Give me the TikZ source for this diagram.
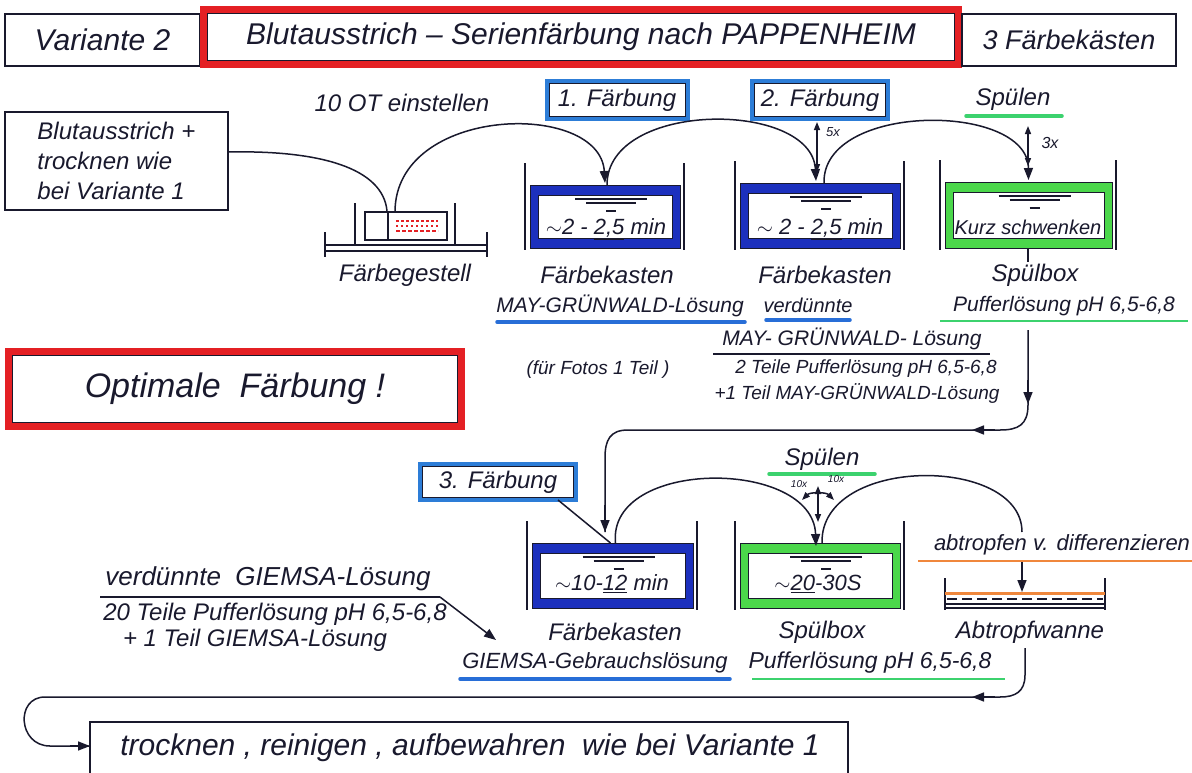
\documentclass[tikz,border=0pt]{standalone}
\usepackage{fontspec}
\setmainfont{Liberation Sans}
\usetikzlibrary{arrows.meta}
\definecolor{rred}{RGB}{228,32,36}
\definecolor{kblue}{RGB}{28,48,190}
\definecolor{lblue}{RGB}{45,125,215}
\definecolor{ublue}{RGB}{40,110,215}
\definecolor{kgreen}{RGB}{75,215,75}
\definecolor{ugreen}{RGB}{60,210,110}
\definecolor{uorange}{RGB}{240,135,60}
\definecolor{ink}{RGB}{25,25,45}
\newcommand\Kasten[6]{%
  \draw[wall] (#2-5,#4-22) -- (#2-5,#5+2);
  \draw[wall] (#3+4,#4-22) -- (#3+4,#5+2);
  \fill[#6] (#2,#4) rectangle (#3,#5);
  \filldraw[fill=white, draw=ink, line width=0.7pt] (#2+8,#4+10) rectangle (#3-8,#5-10);
  \draw[ink, line width=0.7pt] (#2,#4) rectangle (#3,#5);
  \coordinate (#1) at ({(#2+#3)/2},#4);
  \draw[water] ({(#2+#3)/2-30},#4+14) -- ++(72,0);
  \draw[water] ({(#2+#3)/2-19},#4+18) -- ++(50,0);
  \draw[water] ({(#2+#3)/2+1},#4+26) -- ++(10,0);
}
\newcommand\Inset[2]{%
  \draw[ink, line width=0.8pt] ([shift={(#2,#2)}]#1.north west) rectangle ([shift={(-#2,-#2)}]#1.south east);
}
\begin{document}
\begin{tikzpicture}[x=1pt,y=-1pt,
  hand/.style={text=ink, inner sep=0pt, outer sep=0pt, font=\fontsize{24}{28}\selectfont\itshape},
  big/.style={hand, font=\fontsize{30}{34}\selectfont\itshape},
  mid/.style={hand, font=\fontsize{22}{26}\selectfont\itshape},
  small/.style={hand, font=\fontsize{20}{24}\selectfont\itshape},
  intext/.style={hand, font=\fontsize{22}{26}\selectfont\itshape},
  tiny/.style={hand, font=\fontsize{13}{15}\selectfont\itshape},
  bbox/.style={draw=ink, line width=1.3pt, outer sep=0pt, inner sep=0pt},
  redbox/.style={draw=rred, line width=7pt, outer sep=0pt, inner sep=0pt},
  lbbox/.style={draw=lblue, line width=4pt, outer sep=0pt, inner sep=0pt},
  wall/.style={draw=ink, line width=1.4pt},
  water/.style={draw=ink, line width=1.3pt},
  conn/.style={draw=ink, line width=1.5pt},
  tip/.style={conn, -{Triangle[length=12pt,width=9pt]}},
  dtip/.style={conn, {Triangle[length=8pt,width=6pt]}-{Triangle[length=8pt,width=6pt]}},
  uline/.style={line width=3.5pt, line cap=round},
]
\useasboundingbox (0,0) rectangle (1192,772);
\clip (0,0) rectangle (1192,772);
\fill[white] (0,0) rectangle (1192,772);

% ---------- header ----------
\node[bbox, big, minimum width=195pt, minimum height=52pt] (var) at (102.5,40) {Variante 2};
\node[redbox, big, minimum width=755pt, minimum height=55pt] (title) at (581,37) {Blutausstrich – Serienfärbung nach PAPPENHEIM};
\Inset{title}{4}
\node[bbox, hand, font=\fontsize{27}{30}\selectfont\itshape, minimum width=214pt, minimum height=52pt] (kaesten) at (1069,40) {3 Färbekästen};

% ---------- left box ----------
\node[bbox, hand, align=left, minimum width=223pt, minimum height=98pt] (blut) at (116.5,161) {Blutausstrich +\\[2pt]trocknen wie\\[2pt]bei Variante 1};

% ---------- Färbegestell ----------
\draw[wall] (325,232) -- (325,257);
\draw[wall] (487,232) -- (487,257);
\draw[wall] (325,245) -- (487,245);
\draw[wall] (325,251) -- (487,251);
\draw[wall] (355,203) -- (355,245);
\draw[wall] (455,203) -- (455,245);
\draw[wall] (365,212) rectangle (447,240);
\draw[wall] (388,212) -- (388,240);
\draw[rred, line width=1.6pt, dash pattern=on 3pt off 2pt] (396,221) -- (438,221);
\draw[rred, line width=1.6pt, dash pattern=on 2pt off 3pt] (396,226) -- (438,226);
\draw[rred, line width=1.6pt, dash pattern=on 4pt off 2pt] (396,231) -- (438,231);
\coordinate (gin) at (387,211);
\coordinate (gout) at (395,212);

\node[hand] (ot) at (402,103) {10 OT einstellen};

% ---------- top row containers ----------
\Kasten{k1}{530}{680}{185}{248}{kblue}
\Kasten{k2}{740}{900}{183}{248}{kblue}
\Kasten{s1}{945}{1112}{182}{248}{kgreen}
\node[intext] (k1t) at (606,229) {$\sim$2 - \underline{2,5} min};
\node[intext] (k2t) at (820,229) {$\sim$ 2 - \underline{2,5} min};
\node[intext, font=\fontsize{20}{24}\selectfont\itshape] (s1t) at (1028,227) {Kurz schwenken};

\node[lbbox, hand, minimum width=141pt, minimum height=38pt] (f1) at (617,100) {1. Färbung};
\Inset{f1}{2.5}
\node[lbbox, hand, minimum width=136pt, minimum height=38pt] (f2) at (820,100) {2. Färbung};
\Inset{f2}{2.5}
\node[hand] (sp1) at (1013,99) {Spülen};
\draw[ugreen, uline] (966,116) -- (1062,116);

% arcs
\draw[conn] (blut.east |- 0,152) .. controls (320,150) and (383,168) .. (gin);
\draw[tip] (gout) .. controls (395,105) and (600,100) .. ([yshift=2pt]k1);
\draw[tip] ([xshift=2pt]k1) .. controls (607,100) and (812,100) .. ([xshift=-4pt,yshift=2pt]k2);
\draw[tip] ([xshift=4pt]k2) .. controls (822,102) and (1028,102) .. ([yshift=2pt]s1);
\draw[dtip] (817,122) -- (817,172);
\node[tiny] (x5) at (833,132) {5x};
\draw[dtip] (1028,126) -- (1028,166);
\node[small, font=\fontsize{16}{18}\selectfont\itshape] (x3) at (1050,143) {3x};
\draw[conn] (1028,248) -- (1028,262);

% labels under top row
\node[hand] (lg) at (405,275) {Färbegestell};
\node[hand] (lk1) at (607,275) {Färbekasten};
\node[hand] (lk2) at (825,275) {Färbekasten};
\node[hand] (ls1) at (1035,275) {Spülbox};
\node[small, font=\fontsize{21}{25}\selectfont\itshape] (mg1) at (620,306) {MAY-GRÜNWALD-Lösung};
\draw[ublue, uline] (497,322) -- (745,322);
\node[small] (verd) at (808,305) {verdünnte};
\draw[ublue, uline] (766,320) -- (850,320);
\node[small, font=\fontsize{21}{25}\selectfont\itshape] (puf1) at (1064,306) {Pufferlösung pH 6,5-6,8};
\draw[ugreen, line width=2.5pt] (940,321) -- (1188,321);
\node[small, font=\fontsize{21}{25}\selectfont\itshape] (mg2) at (852,339) {MAY- GRÜNWALD- Lösung};
\draw[ink, line width=2pt] (713,354) -- (990,354);
\node[small, font=\fontsize{19}{22}\selectfont\itshape] (foto) at (598,370) {(für Fotos 1 Teil )};
\node[small, font=\fontsize{19}{22}\selectfont\itshape] (teile) at (866,369) {2 Teile Pufferlösung pH 6,5-6,8};
\node[small, font=\fontsize{19}{22}\selectfont\itshape] (teil1) at (857,394) {+1 Teil MAY-GRÜNWALD-Lösung};

% ---------- Optimale Färbung ----------
\node[redbox, font=\fontsize{34}{38}\selectfont\itshape, text=ink, minimum width=453pt, minimum height=75pt] (opt) at (235,389) {Optimale\ \ Färbung\ !};
\Inset{opt}{4}

% ---------- flow down ----------
\coordinate (p1) at (1028,330);
\coordinate (k3in) at (605,532);
\draw[conn] (p1) -- (1028,405) .. controls (1028,425) and (1018,430) .. (1000,430) -- (628,430) .. controls (610,430) and (605,440) .. (605,458) -- (k3in);
\draw[tip] (1028,380) -- (1028,404);
\draw[tip] (995,430) -- (972,430);
\draw[tip] (605,505) -- (k3in);

% ---------- bottom row ----------
\node[lbbox, hand, minimum width=156pt, minimum height=36pt] (f3) at (498,482) {3. Färbung};
\Inset{f3}{2.5}
\Kasten{k3}{532}{693}{543}{608}{kblue}
\Kasten{s2}{740}{900}{543}{608}{kgreen}
\draw[conn] ([xshift=-18pt]f3.south east) -- ([xshift=-2pt]k3);
\node[intext] (k3t) at (612,584) {$\sim$10-\underline{12} min};
\node[intext] (s2t) at (818,584) {$\sim$\underline{20}-30S};

\node[hand] (sp2) at (822,459) {Spülen};
\draw[ugreen, uline] (769,474) -- (875,474);
\draw[tip] ([xshift=3pt]k3) .. controls (607,458) and (813,458) .. ([xshift=-4pt,yshift=-3pt]s2);
\coordinate (abtop) at (1022,532);
\draw[conn] ([xshift=2pt]s2) .. controls (820,455) and (1022,455) .. (abtop);
\draw[dtip] (818,486) -- (818,522);
\draw[dtip] (802,500) .. controls (810,492) and (826,492) .. (834,500);
\node[tiny, font=\fontsize{10}{12}\selectfont\itshape] (x10a) at (799,484) {10x};
\node[tiny, font=\fontsize{10}{12}\selectfont\itshape] (x10b) at (836,479) {10x};

\node[mid, anchor=east] (abt) at (1190,545) {abtropfen v. differenzieren};
\draw[uorange, line width=2.5pt] (918,561) -- (1192,561);

% Abtropfwanne
\draw[wall] (945,578) -- (945,610);
\draw[wall] (1105,578) -- (1105,610);
\draw[uorange, line width=3pt] (945,593) -- (1105,593);
\draw[ink, line width=2.5pt, dash pattern=on 10pt off 5pt] (947,599) -- (1103,599);
\draw[ink, line width=1.3pt] (945,604) -- (1105,604);
\draw[ink, line width=1.3pt] (945,608) -- (1105,608);
\coordinate (wanne) at (1022,592);
\draw[tip] (1022,562) -- (wanne);

\node[hand] (lk3) at (615,632) {Färbekasten};
\node[hand] (ls2) at (822,632) {Spülbox};
\node[hand] (law) at (1030,632) {Abtropfwanne};
\node[mid] (gg) at (595,663) {GIEMSA-Gebrauchslösung};
\draw[ublue, uline] (460,679) -- (730,679);
\node[mid, font=\fontsize{23}{27}\selectfont\itshape] (puf2) at (870,663) {Pufferlösung pH 6,5-6,8};
\draw[ugreen, line width=2.5pt] (752,679) -- (1005,679);

% left GIEMSA text
\node[hand, font=\fontsize{26}{30}\selectfont\itshape] (vg) at (268,579) {verdünnte\ \ GIEMSA-Lösung};
\draw[conn] (100,597) -- (440,597);
\coordinate (gtip) at (496,640);
\draw[tip] (440,597) -- (gtip);
\node[mid, font=\fontsize{24}{28}\selectfont\itshape] (tz) at (275,614) {20 Teile Pufferlösung pH 6,5-6,8};
\node[mid, font=\fontsize{24}{28}\selectfont\itshape] (tg) at (255,640) {+ 1 Teil GIEMSA-Lösung};

% ---------- return path & final box ----------
\node[bbox, anchor=north west, minimum width=758pt, minimum height=68pt] (end) at (90,722) {};
\node[big] (endt) at (470,748) {trocknen\ , reinigen\ , aufbewahren\ \ wie bei Variante 1};
\coordinate (endin) at (90,746);
\draw[conn] (1025,648) -- (1025,675) .. controls (1025,692) and (1015,697) .. (1000,697) -- (45,697) .. controls (15,697) and (18,746) .. (50,746) -- (endin);
\draw[tip] (995,697) -- (972,697);
\draw[tip] (70,746) -- (endin);
\end{tikzpicture}
\end{document}
